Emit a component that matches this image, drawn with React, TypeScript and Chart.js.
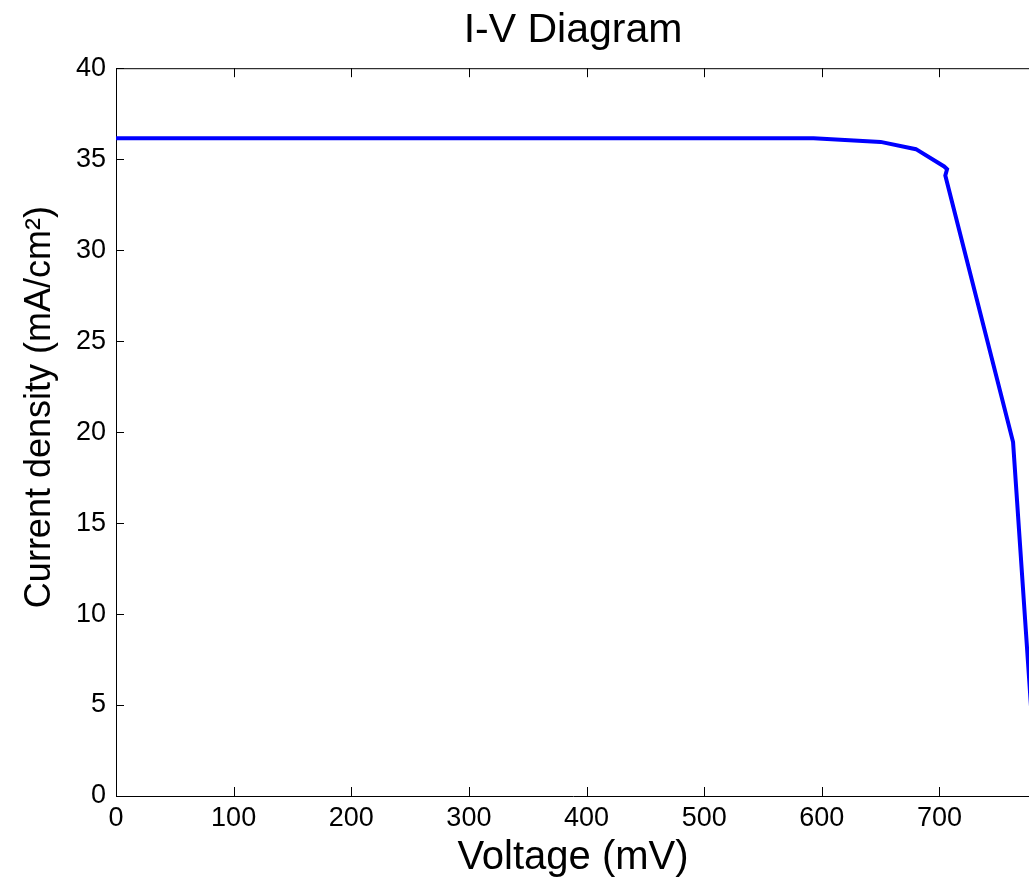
import React, { useEffect, useRef } from "react";
import { Chart, registerables } from "chart.js";

Chart.register(...registerables);

// Data (voltage in mV, current density in mA/cm²)
const voltage = [0, 593, 650, 680, 704, 706.5, 705, 762.6, 783];
const currentDensity = [36.15, 36.15, 35.95, 35.55, 34.6, 34.45, 34.1, 19.45, 0];

const chartTitle = "I-V Diagram";
const xAxisTitle = "Voltage (mV)";
const yAxisTitle = "     Current density (mA/cm²)";

const xMin = 0;
const xMax = 777;
const xStep = 100;
const yMin = 0;
const yMax = 40;
const yStep = 5;

const FONT = "'Liberation Sans', Arial, Helvetica, sans-serif";

const axisBoxPlugin = {
  id: "axisBox",
  afterDatasetsDraw(chart: any) {
    const { ctx, chartArea: a, scales } = chart;
    const x = scales.x;
    const y = scales.y;
    ctx.save();
    ctx.strokeStyle = "#000";
    ctx.lineWidth = 1;
    ctx.beginPath();
    ctx.moveTo(a.left, a.top + 0.5);
    ctx.lineTo(a.right, a.top + 0.5);
    x.ticks.forEach((t: any) => {
      const px = Math.round(x.getPixelForValue(t.value)) + 0.5;
      ctx.moveTo(px, a.bottom);
      ctx.lineTo(px, a.bottom - 9);
      ctx.moveTo(px, a.top);
      ctx.lineTo(px, a.top + 9);
    });
    y.ticks.forEach((t: any) => {
      const py = Math.round(y.getPixelForValue(t.value)) + 0.5;
      ctx.moveTo(a.left, py);
      ctx.lineTo(a.left + 8, py);
    });
    ctx.stroke();
    ctx.restore();
  },
};

export default function App() {
  const canvasRef = useRef<HTMLCanvasElement | null>(null);

  useEffect(() => {
    if (!canvasRef.current) return;
    Chart.defaults.color = "#000";
    Chart.defaults.font.family = FONT;
    const chart = new Chart(canvasRef.current, {
      type: "line",
      data: {
        datasets: [
          {
            data: voltage.map((v, i) => ({ x: v, y: currentDensity[i] })),
            borderColor: "#0000FF",
            backgroundColor: "#0000FF",
            borderWidth: 4,
            pointRadius: 0,
            tension: 0,
            fill: false,
          },
        ],
      },
      options: {
        responsive: false,
        animation: false,
        layout: { padding: { left: 0, top: 0, bottom: 0, right: 10 } },
        plugins: {
          legend: { display: false },
          tooltip: { enabled: false },
          title: {
            display: true,
            fullSize: false,
            text: chartTitle,
            color: "#000",
            font: { family: FONT, size: 41, weight: "normal" },
            padding: { top: 6, bottom: 13 },
          },
        },
        scales: {
          x: {
            type: "linear",
            min: xMin,
            max: xMax,
            grid: { display: false, drawTicks: false },
            border: { display: true, color: "#000", width: 1 },
            ticks: {
              stepSize: xStep,
              includeBounds: false,
              padding: 6,
              color: "#000",
              font: { family: FONT, size: 27 },
              maxRotation: 0,
            },
            title: {
              display: true,
              text: xAxisTitle,
              color: "#000",
              font: { family: FONT, size: 40 },
              padding: { top: 0, bottom: 0 },
            },
            afterFit: (scale: any) => {
              scale.height = 86;
            },
          },
          y: {
            type: "linear",
            min: yMin,
            max: yMax,
            grid: { display: false, drawTicks: false },
            border: { display: true, color: "#000", width: 1 },
            ticks: {
              stepSize: yStep,
              padding: 10,
              color: "#000",
              font: { family: FONT, size: 27 },
            },
            title: {
              display: true,
              text: yAxisTitle,
              color: "#000",
              font: { family: FONT, size: 36 },
              padding: { top: 18, bottom: 0 },
            },
            afterFit: (scale: any) => {
              scale.width = 116;
            },
          },
        },
      },
      plugins: [axisBoxPlugin],
    });
    return () => chart.destroy();
  }, []);

  return (
    <div
      style={{
        position: "fixed",
        left: 0,
        top: 0,
        width: 1029,
        height: 882,
        overflow: "hidden",
        background: "#fff",
      }}
    >
      <canvas
        ref={canvasRef}
        width={1040}
        height={882}
        style={{ display: "block", width: 1040, height: 882 }}
      />
    </div>
  );
}
